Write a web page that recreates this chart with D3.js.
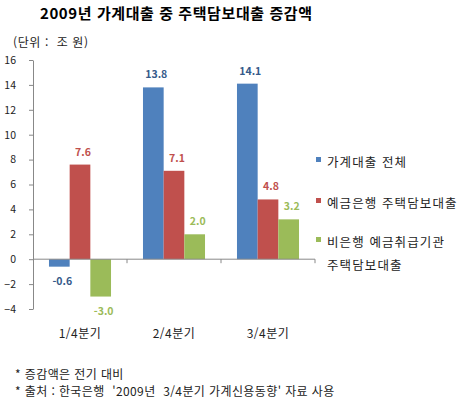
<!DOCTYPE html>
<html lang="ko">
  <head>
    <meta charset="utf-8">
    <title>2009년 가계대출 중 주택담보대출 증감액</title>
    <style>
      body { margin: 0; background: #fff; }
      text { font-family: "Noto Sans CJK KR", sans-serif; white-space: pre; }
    </style>
  </head>
  <body>

<script src="https://cdn.jsdelivr.net/npm/d3@7"></script>

<script>

// data
var quarters = ["1/4분기", "2/4분기", "3/4분기"];
var seriesNames = ["가계대출 전체", "예금은행 주택담보대출", "비은행 예금취급기관 주택담보대출"];
var total = [-0.6, 13.8, 14.1];
var bankMortgage = [7.6, 7.1, 4.8];
var nonbankMortgage = [-3.0, 2.0, 3.2];
var yTicks = [-4, -2, 0, 2, 4, 6, 8, 10, 12, 14, 16];
var notes = ["* 증감액은 전기 대비", "* 출처 : 한국은행  '2009년  3/4분기 가계신용동향' 자료 사용"];

var colors = ["#4f81bd", "#c0504d", "#9bbb59"];
var labelColors = ["#355a8a", "#c0504d", "#9bbb59"];
var values = [total, bankMortgage, nonbankMortgage];

var svg = d3.select("body").append("svg")
            .attr("width", 467)
            .attr("height", 411);

// title
svg.append("text")
   .attr("x", 40).attr("y", 19)
   .attr("font-size", 15).attr("font-weight", "bold")
   .attr("textLength", 272)
   .text("2009년 가계대출 중 주택담보대출 증감액");

svg.append("text")
   .attr("x", 13).attr("y", 47)
   .attr("font-size", 12).attr("fill", "#222")
   .attr("letter-spacing", 0.6)
   .text("(단위 :  조 원)");

// scales
var y = d3.scaleLinear().domain([-4, 16]).range([309, 60]);
var x = d3.scaleBand().domain(quarters).range([33, 315])
          .paddingInner(0.34).paddingOuter(0.17);
var xs = d3.scaleBand().domain(d3.range(3)).range([0, x.bandwidth()]);

// y axis
var yAxis = svg.append("g")
   .attr("transform", "translate(33,0)")
   .call(d3.axisLeft(y).tickValues(yTicks).tickSize(4).tickSizeOuter(0));
yAxis.select(".domain").attr("stroke", "#888");
yAxis.selectAll(".tick line").attr("stroke", "#888");
yAxis.selectAll("text")
   .attr("font-family", "DejaVu Sans, sans-serif")
   .attr("font-size", 10.5).attr("fill", "#222")
   .attr("x", -17).attr("text-anchor", "end");

// bars
for (var s = 0; s < 3; s++) {
  var g = svg.append("g");
  g.selectAll("rect")
   .data(quarters)
   .enter().append("rect")
   .attr("x", function(d) { return x(d) + xs(s); })
   .attr("y", function(d, i) { return y(Math.max(0, values[s][i])); })
   .attr("width", xs.bandwidth())
   .attr("height", function(d, i) { return Math.abs(y(values[s][i]) - y(0)); })
   .attr("fill", colors[s]);

  g.selectAll("text")
   .data(quarters)
   .enter().append("text")
   .attr("x", function(d) { return x(d) + xs(s) + xs.bandwidth() / 2 + 3; })
   .attr("y", function(d, i) {
     var v = values[s][i];
     return v >= 0 ? y(v) - 9 : y(v) + 18;
   })
   .attr("text-anchor", "middle")
   .attr("font-family", "DejaVu Sans, sans-serif")
   .attr("font-size", 10.5).attr("font-weight", "bold")
   .attr("fill", labelColors[s])
   .text(function(d, i) { return values[s][i].toFixed(1); });
}

// x axis at zero
var xAxis = svg.append("g")
   .attr("transform", "translate(0," + y(0) + ")");
xAxis.append("line")
   .attr("x1", 33).attr("x2", 315)
   .attr("stroke", "#888");
xAxis.selectAll(".tk")
   .data(quarters)
   .enter().append("line")
   .attr("x1", function(d) { return x(d) + x.bandwidth() + x.step() * 0.17; })
   .attr("x2", function(d) { return x(d) + x.bandwidth() + x.step() * 0.17; })
   .attr("y1", 0).attr("y2", 4)
   .attr("stroke", "#888");

svg.selectAll(".cat")
   .data(quarters)
   .enter().append("text")
   .attr("x", function(d) { return x(d) + x.bandwidth() / 2; })
   .attr("y", 338)
   .attr("text-anchor", "middle")
   .attr("font-size", 12).attr("fill", "#222")
   .attr("letter-spacing", 0.5)
   .text(function(d) { return d; });

// legend
var legendY = [162, 203, 242];
var legend = svg.append("g");
legend.selectAll("rect")
   .data(seriesNames)
   .enter().append("rect")
   .attr("x", 316).attr("y", function(d, i) { return legendY[i] - 5; })
   .attr("width", 5).attr("height", 5)
   .attr("fill", function(d, i) { return colors[i]; });

legend.selectAll("text")
   .data(seriesNames)
   .enter().append("text")
   .attr("x", 327).attr("y", function(d, i) { return legendY[i] + 5; })
   .attr("font-size", 12.5).attr("fill", "#222")
   .attr("letter-spacing", 1.1)
   .each(function(d) {
     var words = d.split(" ");
     var t = d3.select(this);
     if (words.length > 2) {
       t.append("tspan").text(words.slice(0, 2).join(" "));
       t.append("tspan").attr("x", 327).attr("dy", 23).text(words.slice(2).join(" "));
     } else {
       t.text(d);
     }
   });

// notes
svg.selectAll(".note")
   .data(notes)
   .enter().append("text")
   .attr("x", 15).attr("y", function(d, i) { return 379 + i * 17; })
   .attr("font-size", 12).attr("fill", "#222")
   .attr("letter-spacing", 0.4)
   .text(function(d) { return d; });

</script>

  </body>
</html>
